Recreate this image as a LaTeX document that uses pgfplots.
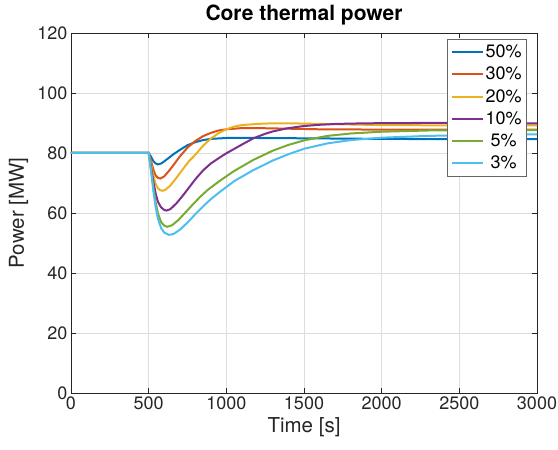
\documentclass[border=0pt]{standalone}
\usepackage{fontspec}
\setmainfont{TeX Gyre Heros}
\usepackage{pgfplots}
\pgfplotsset{compat=1.18}

\definecolor{mblue}{rgb}{0,0.447,0.741}
\definecolor{morange}{rgb}{0.850,0.325,0.098}
\definecolor{myellow}{rgb}{0.929,0.694,0.125}
\definecolor{mpurple}{rgb}{0.494,0.184,0.556}
\definecolor{mgreen}{rgb}{0.466,0.674,0.188}
\definecolor{mcyan}{rgb}{0.301,0.745,0.933}
\definecolor{axgray}{rgb}{0.15,0.15,0.15}

\begin{document}
\begin{tikzpicture}
\begin{axis}[
    scale only axis,
    width=466bp, height=360bp,
    xmin=0, xmax=3000,
    ymin=0, ymax=120,
    xtick={0,500,...,3000},
    ytick={0,20,...,120},
    grid=major,
    major grid style={black!13, line width=0.5bp},
    axis line style={axgray, line width=0.6bp},
    tick style={axgray, line width=0.6bp},
    tick align=inside,
    major tick length=5bp,
    /pgf/number format/assume math mode=true,
    /pgf/number format/set thousands separator={},
    ticklabel style={font=\fontsize{18bp}{21bp}\selectfont, text=axgray},
    title={Core thermal power},
    title style={font=\fontsize{21bp}{24bp}\selectfont\bfseries,
        at={(axis description cs:0.5,1.0194)}, anchor=base},
    xlabel={Time [s]},
    ylabel={Power [MW]},
    label style={font=\fontsize{20.5bp}{24bp}\selectfont, text=axgray},
    xlabel style={at={(axis description cs:0.5,-0.1111)}, anchor=base},
    ylabel style={at={(axis description cs:-0.1009,0.5)}, anchor=base},
    legend style={at={(0.9785,0.983)}, anchor=north east,
        draw=black!60, line width=0.5bp,
        font=\fontsize{18bp}{21bp}\selectfont,
        inner xsep=3.5bp, inner ysep=4bp,
        nodes={inner sep=1.7bp},
        row sep=4.5bp},
    legend cell align=left,
    legend image code/.code={\draw[#1, line width=2bp] (0bp,0bp) -- (31bp,0bp);},
    every axis plot/.append style={line width=2bp},
]

\addplot[mblue] coordinates {
(0,80)(500,80)(515,78.8)(530,77.3)(545,76.5)(560,76.2)(580,76.5)(600,77.2)
(630,78.4)(660,79.6)(700,81.0)(750,82.6)(800,83.6)(850,84.3)(900,84.7)
(1000,85.0)(1200,85.0)(1500,84.9)(2000,84.7)(2500,84.6)(3000,84.6)
};
\addlegendentry{50\%}

\addplot[morange] coordinates {
(0,80)(500,80)(515,77.5)(530,74.5)(545,72.5)(560,71.7)(575,71.5)(600,72.2)
(630,74.0)(660,76.0)(700,78.8)(750,81.8)(800,84.0)(850,85.6)(900,86.7)
(950,87.5)(1000,87.9)(1100,88.3)(1200,88.3)(1400,88.1)(1600,87.9)
(2000,87.8)(2500,87.8)(3000,87.8)
};
\addlegendentry{30\%}

\addplot[myellow] coordinates {
(0,80)(500,80)(515,76.5)(530,72.5)(545,69.7)(560,68.2)(575,67.6)(590,67.4)
(610,67.8)(640,69.2)(680,71.8)(720,74.6)(760,77.3)(800,79.4)(850,82.4)
(900,84.8)(950,86.6)(1000,87.9)(1050,88.8)(1100,89.3)(1200,89.7)
(1300,89.9)(1400,89.9)(1500,89.8)(1700,89.6)(2000,89.3)(2500,89.2)(3000,89.2)
};
\addlegendentry{20\%}

\addplot[mpurple] coordinates {
(0,80)(500,80)(515,75.5)(530,70.5)(545,66.5)(560,63.7)(580,61.9)(600,61.0)
(615,60.8)(640,61.3)(680,63.3)(720,65.8)(760,68.5)(800,71.2)(850,74.2)
(900,76.5)(960,78.6)(1000,79.9)(1100,82.8)(1174,84.9)(1250,86.4)
(1300,87.2)(1389,88.2)(1500,89.0)(1600,89.4)(1711,89.7)(1900,89.9)
(2200,90.0)(2500,90.0)(3000,89.9)
};
\addlegendentry{10\%}

\addplot[mgreen] coordinates {
(0,80)(500,80)(515,74.5)(530,68.5)(545,63.5)(560,59.8)(580,57.0)(600,55.8)
(620,55.4)(650,55.9)(690,57.6)(730,59.8)(780,62.6)(830,65.3)(880,67.7)
(960,70.8)(1050,74.0)(1174,77.7)(1300,80.8)(1400,82.7)(1500,84.2)
(1650,85.7)(1800,86.5)(2000,87.1)(2300,87.5)(2600,87.6)(3000,87.6)
};
\addlegendentry{\ 5\%}

\addplot[mcyan] coordinates {
(0,80)(500,80)(515,74.0)(530,67.5)(545,62.0)(560,58.0)(580,55.0)(600,53.5)
(630,52.7)(660,53.0)(700,54.4)(750,56.8)(800,59.6)(850,62.2)(900,64.6)
(960,67.1)(1050,70.6)(1174,74.3)(1300,77.5)(1400,79.6)(1500,81.4)
(1650,83.2)(1800,84.3)(2000,85.1)(2300,85.7)(2600,86.0)(3000,86.2)
};
\addlegendentry{\ 3\%}

\end{axis}
\pgfresetboundingbox
\path[use as bounding box] ([xshift=-71bp,yshift=-57bp]current axis.south west)
    rectangle ([xshift=21bp,yshift=33bp]current axis.north east);
\end{tikzpicture}
\end{document}
